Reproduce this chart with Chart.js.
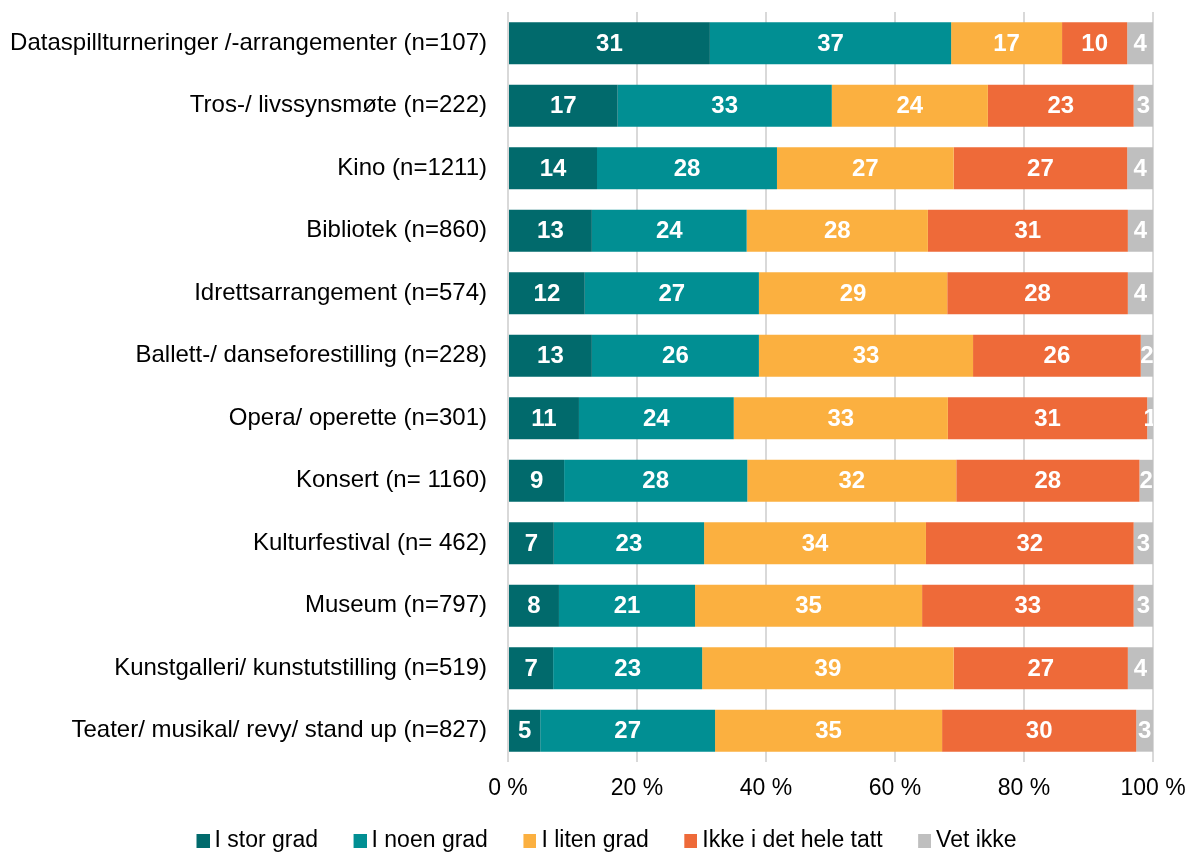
<!DOCTYPE html>
<html>
<head>
<meta charset="utf-8">
<script src="https://cdn.jsdelivr.net/npm/chart.js@4"></script>
<style>
html,body{margin:0;padding:0;background:#fff;}
#wrap{width:1192px;height:852px;}
</style>
</head>
<body>
<div id="wrap"><canvas id="c" width="1192" height="852"></canvas></div>
<script>
const categories = [
  'Dataspillturneringer /-arrangementer (n=107)',
  'Tros-/ livssynsmøte (n=222)',
  'Kino (n=1211)',
  'Bibliotek (n=860)',
  'Idrettsarrangement (n=574)',
  'Ballett-/ danseforestilling (n=228)',
  'Opera/ operette (n=301)',
  'Konsert (n= 1160)',
  'Kulturfestival (n= 462)',
  'Museum (n=797)',
  'Kunstgalleri/ kunstutstilling (n=519)',
  'Teater/ musikal/ revy/ stand up (n=827)'
];
const seriesNames = ['I stor grad', 'I noen grad', 'I liten grad', 'Ikke i det hele tatt', 'Vet ikke'];
const iStorGrad        = [31.3, 17.0, 13.8, 13.0, 11.9, 13.0, 11.0,  8.7,  7.1,  7.9,  7.0,  5.0];
const iNoenGrad        = [37.4, 33.2, 27.9, 24.0, 27.0, 25.9, 24.0, 28.4, 23.3, 21.1, 23.1, 27.1];
const iLitenGrad       = [17.2, 24.2, 27.4, 28.1, 29.2, 33.2, 33.2, 32.4, 34.4, 35.2, 39.0, 35.2];
const ikkeIDetHeleTatt = [10.1, 22.6, 26.9, 31.0, 28.0, 26.0, 30.9, 28.4, 32.2, 32.8, 27.0, 30.1];
const vetIkke          = [ 4.0,  3.0,  4.0,  3.9,  3.9,  1.9,  0.9,  2.1,  3.0,  3.0,  3.9,  2.6];
const xTickValues = [0, 20, 40, 60, 80, 100];

const seriesValues = [iStorGrad, iNoenGrad, iLitenGrad, ikkeIDetHeleTatt, vetIkke];
const colors = ['#016A6C', '#018F93', '#FBB040', '#EE6A39', '#BFBFBF'];

Chart.defaults.font.family = '"Liberation Sans", Arial, sans-serif';
Chart.defaults.color = '#000';

function swatch(color) {
  const c = document.createElement('canvas');
  c.width = 20; c.height = 14;
  const g = c.getContext('2d');
  g.fillStyle = color;
  g.fillRect(7, 0, 13, 14);
  return c;
}

function zeroPadding(scale) {
  scale.paddingTop = 0; scale.paddingBottom = 0;
  scale.paddingLeft = 0; scale.paddingRight = 0;
}

const valueLabels = {
  id: 'valueLabels',
  afterLayout(chart) {
    const lg = chart.legend;
    if (lg) {
      const w = lg.right - lg.left;
      lg.left = 161; lg.right = 161 + w;
      lg.top = 794; lg.bottom = 852;
      lg.height = 58;
    }
  },
  afterDatasetsDraw(chart) {
    const { ctx, chartArea: a } = chart;
    ctx.save();
    ctx.beginPath();
    ctx.rect(a.left, a.top, a.right - a.left, a.bottom - a.top);
    ctx.clip();
    ctx.font = 'bold 24px "Liberation Sans", Arial, sans-serif';
    ctx.fillStyle = '#ffffff';
    ctx.textAlign = 'center';
    ctx.textBaseline = 'middle';
    chart.data.datasets.forEach((ds, i) => {
      const meta = chart.getDatasetMeta(i);
      meta.data.forEach((el, j) => {
        const p = el.getProps(['x', 'base', 'y'], true);
        ctx.fillText(String(Math.round(ds.data[j])), (p.x + p.base) / 2, p.y + 1);
      });
    });
    ctx.restore();
  }
};

new Chart(document.getElementById('c'), {
  type: 'bar',
  data: {
    labels: categories,
    datasets: seriesNames.map((name, i) => ({
      label: name,
      data: seriesValues[i],
      backgroundColor: colors[i],
      borderWidth: 0,
      barPercentage: 0.67,
      categoryPercentage: 1
    }))
  },
  options: {
    indexAxis: 'y',
    responsive: false,
    animation: false,
    devicePixelRatio: 1,
    layout: { padding: { left: 0, right: 39, top: 12, bottom: 0 } },
    scales: {
      x: {
        stacked: true,
        min: 0, max: 100,
        afterBuildTicks(scale) { scale.ticks = xTickValues.map(v => ({ value: v })); },
        afterFit(scale) { scale.height = 42; zeroPadding(scale); },
        ticks: {
          padding: 13,
          font: { size: 23 },
          color: '#000',
          callback: v => v + ' %'
        },
        grid: { color: '#D9D9D9', lineWidth: 2, drawTicks: false },
        border: { display: false }
      },
      y: {
        stacked: true,
        afterFit(scale) { scale.width = 508; zeroPadding(scale); },
        ticks: { padding: 21, font: { size: 24 }, color: '#000' },
        grid: { display: false, drawTicks: false },
        border: { display: false }
      }
    },
    plugins: {
      legend: {
        position: 'bottom',
        align: 'start',
        maxHeight: 48,
        labels: {
          usePointStyle: true,
          boxWidth: 7,
          boxHeight: 14,
          padding: 35,
          font: { size: 23 },
          color: '#000',
          generateLabels(chart) {
            return chart.data.datasets.map((ds, i) => ({
              text: ds.label,
              fillStyle: colors[i],
              strokeStyle: colors[i],
              lineWidth: 0,
              pointStyle: swatch(colors[i]),
              hidden: false,
              datasetIndex: i
            }));
          }
        }
      },
      tooltip: { enabled: false }
    }
  },
  plugins: [valueLabels]
});
</script>
</body>
</html>
